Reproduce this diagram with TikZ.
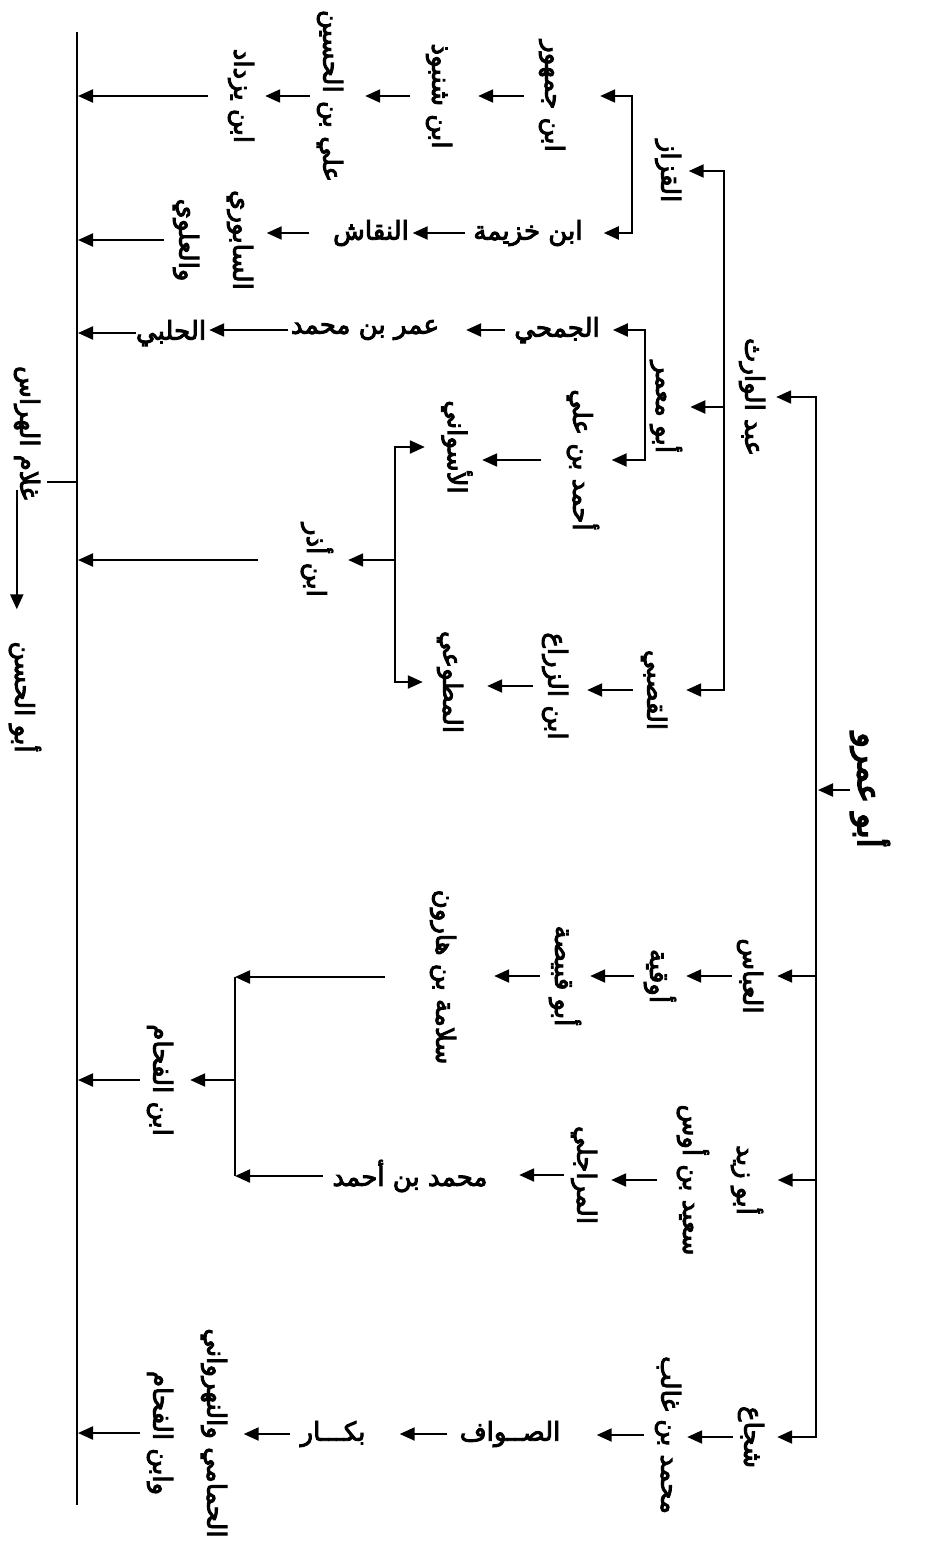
\documentclass[tikz,border=0pt]{standalone}
\usepackage{fontspec}
\usetikzlibrary{arrows.meta,calc}
\TeXXeTstate=1
\newfontfamily\arb[Script=Arabic,FakeBold=3.5]{DejaVu Sans}
\newfontfamily\arbroot[Script=Arabic,FakeBold=5]{DejaVu Sans}
\newcommand{\artxt}[1]{\beginR #1\endR}
\tikzset{
  lab/.style={font=\arb\fontsize{26}{54}\selectfont, inner sep=0pt, align=center},
  rot/.style={lab, rotate=-90, minimum height=#1pt},
  hz/.style={lab, minimum width=#1pt},
  rootst/.style={font=\arbroot\fontsize{32}{36}\selectfont, inner sep=0pt, rotate=-90, minimum height=26pt},
  arr/.style={line width=2.2pt, -{Triangle[length=15pt,width=13pt]}},
  ln/.style={line width=2.2pt},
}
\begin{document}
\begin{tikzpicture}[x=1pt,y=-1pt]
\fill[white] (0,0) rectangle (928,1556);
\useasboundingbox (0,0) rectangle (928,1556);

% coordinates of the vertical lines
\coordinate (mtop) at (77,32);
\coordinate (mbot) at (77,1505);
\coordinate (rl) at (816,0);
\coordinate (b1) at (632,0);
\coordinate (b2) at (645,0);
\coordinate (b3) at (724,0);
\coordinate (b4) at (395,0);
\coordinate (b5) at (235,0);

% nodes
\node[rot=32] (jumhur) at (552,96) {\artxt{ابن جمهور}};
\node[rot=32] (shanbudh) at (439,96) {\artxt{ابن شنبوذ}};
\node[rot=34] (ali) at (330,96) {\artxt{علي بن الحسين}};
\node[rot=30] (yazdad) at (241,96) {\artxt{ابن يزداد}};
\node[rot=33] (qazzaz) at (668,171) {\artxt{القزاز}};
\node[hz=101] (khuz) at (528,233) {\artxt{ابن خزيمة}};
\node[hz=77] (naqqash) at (371,233) {\artxt{النقاش}};
\node[rot=87] (nis) at (213,240) {\artxt{السابوري}\\\artxt{والعلوي}};
\node[rot=32] (abdalwarith) at (752,397) {\artxt{عبد الوارث}};
\node[rot=24] (abumamar) at (666,407) {\artxt{أبو معمر}};
\node[hz=80] (jumahi) at (557,330) {\artxt{الجمحي}};
\node[hz=145] (umar) at (365,330) {\artxt{عمر بن محمد}};
\node[hz=57] (halabi) at (171,333) {\artxt{الحلبي}};
\node[rot=43] (ahmad) at (583,460) {\artxt{أحمد بن علي}};
\node[rot=46] (aswani) at (457,447) {\artxt{الأسواني}};
\node[rot=34] (ibnadhar) at (317,560) {\artxt{ابن أذر}};
\node[rot=40] (qasabi) at (654,690) {\artxt{القصبي}};
\node[rot=44] (zarra) at (555,686) {\artxt{ابن الزراع}};
\node[rot=40] (mutawwi) at (450,682) {\artxt{المطوعي}};
\node[rootst] (root) at (870,790) {\artxt{أبو عمرو}};
\node[rot=34] (abbas) at (750,976) {\artxt{العباس}};
\node[rot=34] (uqiyya) at (660,976) {\artxt{أوقية}};
\node[rot=38] (qabisa) at (565,976) {\artxt{أبو قبيصة}};
\node[rot=34] (salama) at (443,977) {\artxt{سلامة بن هارون}};
\node[rot=40] (fahham1) at (160,1080) {\artxt{ابن الفحام}};
\node[rot=95] (abuzayd) at (720,1180) {\artxt{أبو زيد}\\\artxt{سعيد بن أوس}};
\node[rot=34] (marajili) at (584,1175) {\artxt{المراجلي}};
\node[hz=174] (mab) at (410,1176) {\artxt{محمد بن أحمد}};
\node[rot=32] (shuja) at (751,1437) {\artxt{شجاع}};
\node[rot=34] (ghalib) at (668,1435) {\artxt{محمد بن غالب}};
\node[hz=121] (sawwaf) at (510,1434) {\artxt{الصــواف}};
\node[hz=73] (bakkar) at (333,1434) {\artxt{بكـــار}};
\node[rot=93] (hammami) at (187,1433) {\artxt{الحمامي والنهرواني}\\\artxt{وابن الفحام}};
\node[rot=40, minimum width=153pt] (ghulam) at (27,433) {\artxt{غلام الهراس}};
\node[rot=40, minimum width=135pt] (hasan) at (25,697) {\artxt{أبو الحسن}};

% main line
\draw[ln] (mtop) -- (mbot);
\coordinate (gl) at ($(ghulam.north)+(0,49)$);
\draw[ln] (gl) -- (gl -| mtop);
\coordinate (gt) at ($(ghulam.south east)+(10,-20)$);
\draw[arr, shorten >=20pt] (gt) -- (gt |- hasan.west);

% right line
\draw[arr, shorten >=8pt] (rl |- shuja) -- (rl |- abdalwarith) -- (abdalwarith.north);
\draw[arr, shorten >=10pt] (rl |- abdalwarith) -- (rl |- shuja) -- (shuja.north);
\draw[arr, shorten >=10pt] (rl |- abbas) -- (abbas.north);
\draw[arr, shorten >=10pt] (rl |- abuzayd) -- (abuzayd.north);
\draw[arr, shorten >=2pt] (root.south) -- (root.south -| rl);

% bracket b3 (abd al-warith)
\draw[arr, shorten >=4pt] (b3 |- qasabi) -- (b3 |- qazzaz) -- (qazzaz.north);
\draw[arr, shorten >=12pt] (b3 |- qazzaz) -- (b3 |- qasabi) -- (qasabi.north);
\draw[arr, shorten >=8pt] (b3 |- abumamar) -- (abumamar.north);

% bracket b1 (al-qazzaz)
\draw[arr, shorten >=32pt] (b1 |- khuz) -- (b1 |- jumhur) -- (jumhur.north);
\draw[arr, shorten >=21pt] (b1 |- jumhur) -- (b1 |- khuz) -- (khuz.east);

% top chain
\draw[arr, shorten <=12pt, shorten >=23pt] (jumhur.south) -- (jumhur.south -| shanbudh.north);
\draw[arr, shorten <=13pt, shorten >=18pt] (shanbudh.south) -- (shanbudh.south -| ali.north);
\draw[arr, shorten <=3pt, shorten >=9pt] (ali.south) -- (ali.south -| yazdad.north);
\draw[arr, shorten <=18pt, shorten >=1pt] (yazdad.south) -- (yazdad.south -| mtop);

% khuzayma chain
\draw[arr, shorten <=8pt, shorten >=3pt] (khuz.west) -- (khuz.west -| naqqash.east);
\draw[arr, shorten <=23pt, shorten >=10pt] (naqqash.west) -- (naqqash.west -| nis.north);
\draw[arr, shorten <=5pt, shorten >=1pt] (nis.south) -- (nis.south -| mtop);

% bracket b2 (abu ma'mar)
\draw[arr, shorten >=13pt] (b2 |- ahmad) -- (b2 |- jumahi) -- (jumahi.east);
\draw[arr, shorten >=7pt] (b2 |- jumahi) -- (b2 |- ahmad) -- (ahmad.north);

% jumahi chain
\draw[arr, shorten <=9pt, shorten >=27pt] (jumahi.west) -- (jumahi.west -| umar.east);
\draw[arr, shorten <=3pt, shorten >=3pt] (umar.west) -- (umar.west -| halabi.east);
\draw[arr, shorten >=1pt] (halabi.west) -- (halabi.west -| mtop);

% ahmad / ibn adhar
\draw[arr, shorten <=20pt, shorten >=2pt] (ahmad.south) -- (ahmad.south -| aswani.north);
\draw[arr, shorten >=9pt] (b4 |- mutawwi) -- (b4 |- aswani) -- (aswani.south);
\draw[arr, shorten >=7pt] (b4 |- aswani) -- (b4 |- mutawwi) -- (mutawwi.south);
\draw[arr, shorten >=14pt] (b4 |- ibnadhar) -- (ibnadhar.north);
\draw[arr, shorten <=42pt, shorten >=1pt] (ibnadhar.south) -- (ibnadhar.south -| mtop);

% qasabi chain
\draw[arr, shorten <=1pt, shorten >=10pt] (qasabi.south) -- (qasabi.south -| zarra.north);
\draw[arr, shorten >=17pt] (zarra.south) -- (zarra.south -| mutawwi.north);

% abbas chain
\draw[arr, shorten <=1pt, shorten >=9pt] (abbas.south) -- (abbas.south -| uqiyya.north);
\draw[arr, shorten <=9pt, shorten >=6pt] (uqiyya.south) -- (uqiyya.south -| qabisa.north);
\draw[arr, shorten <=6pt, shorten >=34pt] (qabisa.south) -- (qabisa.south -| salama.north);
\draw[arr, shorten <=41pt] (salama.south) -- (salama.south -| b5);

% bracket b5
\draw[ln] (b5 |- salama) -- (b5 |- mab);
\draw[arr, shorten >=10pt] (b5 |- fahham1) -- (fahham1.north);
\draw[arr, shorten >=1pt] (fahham1.south) -- (fahham1.south -| mtop);

% abu zayd chain
\draw[arr, shorten <=15pt, shorten >=10pt] (abuzayd.south) -- (abuzayd.south -| marajili.north);
\draw[arr, shorten <=3pt, shorten >=22pt] (marajili.south) -- (marajili.south -| mab.east);
\draw[arr] (mab.west) -- (mab.west -| b5);

% shuja chain
\draw[arr, shorten <=2pt, shorten >=2pt] (shuja.south) -- (shuja.south -| ghalib.north);
\draw[arr, shorten <=7pt, shorten >=26pt] (ghalib.south) -- (ghalib.south -| sawwaf.east);
\draw[arr, shorten <=2pt, shorten >=30pt] (sawwaf.west) -- (sawwaf.west -| bakkar.east);
\draw[arr, shorten <=6pt, shorten >=10pt] (bakkar.west) -- (bakkar.west -| hammami.north);
\draw[arr, shorten >=1pt] (hammami.south) -- (hammami.south -| mtop);
\end{tikzpicture}
\end{document}
